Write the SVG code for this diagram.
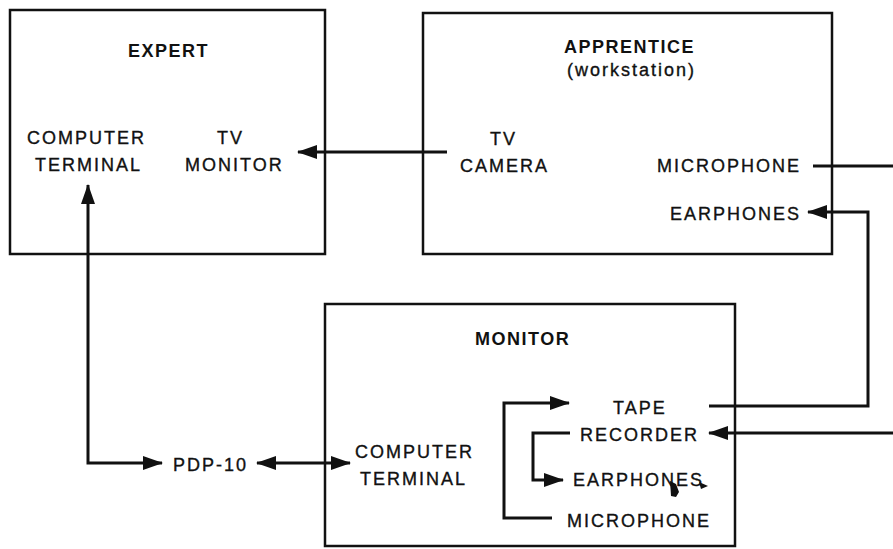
<svg xmlns="http://www.w3.org/2000/svg" width="893" height="549" viewBox="0 0 893 549">
<style>
.box{fill:none;stroke:#111;stroke-width:2.5}
.t{font-family:"Liberation Sans",Arial,sans-serif;font-size:18px;letter-spacing:2px;fill:#111;stroke:#111;stroke-width:0.35}
.b{font-weight:bold;letter-spacing:1.5px;stroke-width:0}
.c{fill:none;stroke:#111;stroke-width:3}
</style>
<defs>
<marker id="ah" markerUnits="userSpaceOnUse" markerWidth="20" markerHeight="14" refX="19" refY="7" orient="auto-start-reverse" overflow="visible">
<path d="M0,0 L20,7 L0,14 Z" fill="#111"/>
</marker>
</defs>
<rect width="893" height="549" fill="#fff"/>
<g id="expert">
<rect class="box" x="10" y="10" width="315" height="244"/>
<text class="t b" x="128" y="57">EXPERT</text>
<text class="t" x="27" y="144">COMPUTER</text>
<text class="t" x="35" y="171">TERMINAL</text>
<text class="t" x="217" y="144">TV</text>
<text class="t" x="185" y="171">MONITOR</text>
</g>
<g id="apprentice">
<rect class="box" x="423" y="13" width="409" height="241"/>
<text class="t b" x="564" y="53">APPRENTICE</text>
<text class="t" x="567" y="76">(workstation)</text>
<text class="t" x="490" y="145">TV</text>
<text class="t" x="460" y="172">CAMERA</text>
<text class="t" x="657" y="172">MICROPHONE</text>
<text class="t" x="670" y="220">EARPHONES</text>
</g>
<g id="monitor">
<rect class="box" x="325" y="304" width="410" height="242"/>
<text class="t b" x="475" y="345">MONITOR</text>
<text class="t" x="355" y="458">COMPUTER</text>
<text class="t" x="360" y="485">TERMINAL</text>
<text class="t" x="613" y="414">TAPE</text>
<text class="t" x="580" y="441">RECORDER</text>
<text class="t" x="573" y="486">EARPHONES</text>
<text class="t" x="567" y="527">MICROPHONE</text>
<path d="M670,481 L676,484 L679,492 L676,497 L671,496 Z" fill="#111"/>
<path d="M699,482 L708,486 L701,489 Z" fill="#111"/>
</g>
<g id="pdp10">
<text class="t" x="173" y="471">PDP-10</text>
</g>
<g id="connectors">
<line class="c" x1="447" y1="152" x2="298" y2="152" marker-end="url(#ah)"/>
<path class="c" d="M88,185 V463 H162" marker-start="url(#ah)" marker-end="url(#ah)"/>
<line class="c" x1="257" y1="463" x2="350" y2="463" marker-start="url(#ah)" marker-end="url(#ah)"/>
<line class="c" x1="813" y1="166" x2="893" y2="166"/>
<path class="c" d="M709,406 H868 V212 H808" marker-end="url(#ah)"/>
<line class="c" x1="893" y1="433" x2="709" y2="433" marker-end="url(#ah)"/>
<path class="c" d="M552,518 H504 V403 H569" marker-end="url(#ah)"/>
<path class="c" d="M570,433 H533 V480 H563" marker-end="url(#ah)"/>
</g>
</svg>
